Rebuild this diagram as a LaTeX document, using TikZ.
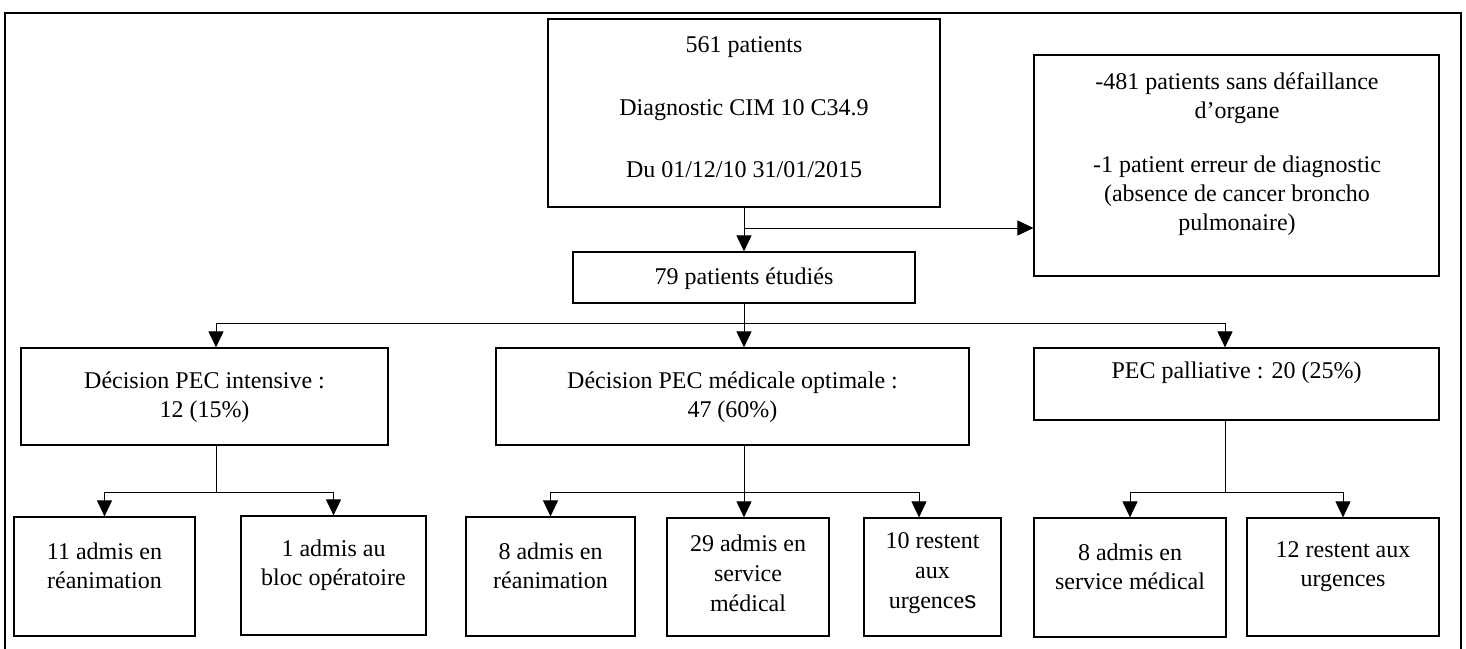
\documentclass[tikz,border=0pt]{standalone}
\usepackage{fontspec}
\setmainfont{Liberation Serif}
\setsansfont{Liberation Sans}
\usetikzlibrary{arrows.meta}
\begin{document}
\begin{tikzpicture}[x=0.5pt,y=-0.5pt,line width=0.5pt,
 box/.style={draw,line width=0.6pt,inner sep=0pt},
 txt/.style={align=center,inner sep=0pt,font=\fontsize{12}{14.5}\selectfont},
 arr/.style={-{Triangle[width=7.5pt,length=8pt]}}]
 \useasboundingbox (0,0) rectangle (1466,648);
 \draw[line width=1pt] (5,660) -- (5,13) -- (1461,13) -- (1461,660);
 % boxes
 \node[box,minimum width=196pt,minimum height=94pt] (start) at (744,113) {};
 \node[box,minimum width=202.5pt,minimum height=110.5pt] (excl) at (1236.5,165.5) {};
 \node[box,minimum width=171pt,minimum height=25.5pt] (n79) at (744,277.5) {};
 \node[box,minimum width=183.5pt,minimum height=48.5pt] (decA) at (204.5,396.5) {};
 \node[box,minimum width=236.5pt,minimum height=48.5pt] (decB) at (732.5,396.5) {};
 \node[box,minimum width=202.5pt,minimum height=36pt] (decC) at (1236.5,384) {};
 \node[box,minimum width=90.5pt,minimum height=59.5pt] (a1) at (104.5,576.5) {};
 \node[box,minimum width=92.5pt,minimum height=59.5pt] (a2) at (333.5,575.5) {};
 \node[box,minimum width=84.5pt,minimum height=59.5pt] (b1) at (550.5,576.5) {};
 \node[box,minimum width=81pt,minimum height=59pt] (b2) at (748,577) {};
 \node[box,minimum width=68.5pt,minimum height=59pt] (b3) at (932.5,577) {};
 \node[box,minimum width=96pt,minimum height=59.5pt] (c1) at (1130,577.5) {};
 \node[box,minimum width=96pt,minimum height=59pt] (c2) at (1343,577) {};
 % texts
 \node[txt] (start text) at (744,107.5) {561 patients\\[16.75pt] Diagnostic CIM 10 C34.9\\[16.75pt] Du 01/12/10 31/01/2015};
 \node[txt] (excl text) at (1237,154.5) {-481 patients sans défaillance\\ d’organe\\[12.5pt] -1 patient erreur de diagnostic\\ (absence de cancer broncho\\ pulmonaire)};
 \node[txt] (n79 text) at (744,279) {79 patients étudiés};
 \node[txt] (decA text) at (204.5,397.5) {Décision PEC intensive :\\ 12 (15\%)};
 \node[txt] (decB text) at (732.5,397.5) {Décision PEC médicale optimale :\\ 47 (60\%)};
 \node[txt] (decC text) at (1236.5,373) {PEC palliative : 20 (25\%)};
 \node[txt] (a1 text) at (104.5,565.5) {11 admis en\\ réanimation};
 \node[txt] (a2 text) at (333.5,565.5) {1 admis au\\ bloc opératoire};
 \node[txt] (b1 text) at (550.5,565.5) {8 admis en\\ réanimation};
 \node[txt,font=\fontsize{12}{15}\selectfont] (b2 text) at (748,573) {29 admis en\\ service\\ médical};
 \node[txt,font=\fontsize{12}{15}\selectfont] (b3 text) at (932.5,573) {10 restent\\ aux\\ urgence{\sffamily s}};
 \node[txt] (c1 text) at (1130,567) {8 admis en\\ service médical};
 \node[txt] (c2 text) at (1343,567) {12 restent aux\\ urgences};
 % connectors
 \coordinate (split) at (744,228);
 \coordinate (bus) at (744,323);
 \coordinate (jA) at (216,492);
 \coordinate (jB) at (744,492);
 \coordinate (jC) at (1225,492);
 \draw[arr] (start) -- (n79);
 \draw[arr] (split) -- (split -| excl.west);
 \draw (n79.south) -- (bus);
 \draw[arr] (bus) -| (jA |- decA.north);
 \draw[arr] (bus) -- (bus |- decB.north);
 \draw[arr] (bus) -| (jC |- decC.north);
 \draw (jA |- decA.south) -- (jA);
 \draw[arr] (jA) -| (a1.north);
 \draw[arr] (jA) -| (a2.north);
 \draw (jB |- decB.south) -- (jB);
 \draw[arr] (jB) -| (b1.north);
 \draw[arr] (jB) -- (jB |- b2.north);
 \draw[arr] (jB) -| ([xshift=-6.75pt]b3.north);
 \draw (jC |- decC.south) -- (jC);
 \draw[arr] (jC) -| (c1.north);
 \draw[arr] (jC) -| (c2.north);
\end{tikzpicture}
\end{document}
